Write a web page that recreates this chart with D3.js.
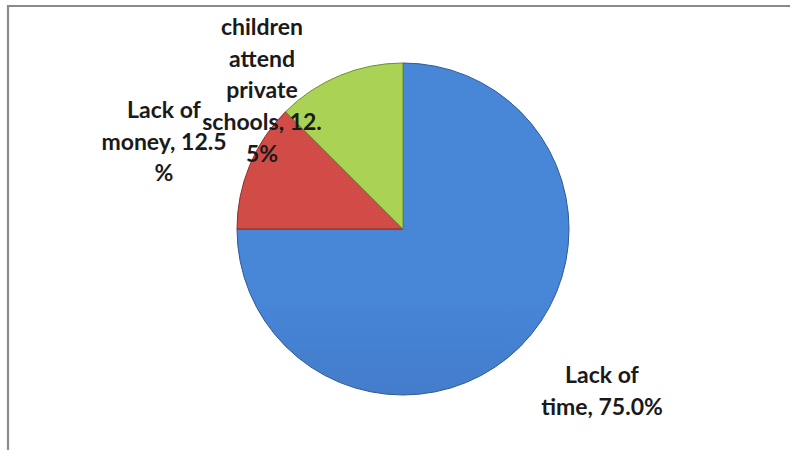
<!DOCTYPE html>
<html>
<head>
<meta charset="utf-8">
<script src="https://cdn.jsdelivr.net/npm/d3@7"></script>
<style>
  html, body { margin: 0; padding: 0; background: #ffffff; }
  svg { display: block; }
</style>
</head>
<body>
<script>
// ---- data ----
const categories = ["Lack of time", "Lack of money", "children attend private schools"];
const values = [75.0, 12.5, 12.5];
const labelLines = [
  ["Lack of", "time, 75.0%"],
  ["Lack of", "money, 12.5", "%"],
  ["children", "attend", "private", "schools, 12.", "5%"]
];

// ---- layout / style ----
const W = 790, H = 450;
const cx = 403, cy = 229, R = 166;
const topCols = ["#4886d8", "#d24c47", "#aad254"];
const botCols = ["#3867ad", "#b13a36", "#8fb245"];
const edgeCols = ["#2d5a96", "#8a2e2b", "#6e8e30"];
// label anchors (center of first baseline), relative to pie center
const labelAnchor = [[199, 154], [-239, -111], [-141, -194]];
const lineH = 31.7;

const svg = d3.select("body").append("svg").attr("width", W).attr("height", H);

// chart frame
svg.append("path")
  .attr("d", `M8,${H + 5} L8,6 L${W + 5},6`)
  .attr("fill", "none").attr("stroke", "#8a8a8a").attr("stroke-width", 2.2);

const defs = svg.append("defs");
topCols.forEach((c, i) => {
  const g = defs.append("linearGradient").attr("id", "g" + i)
    .attr("gradientUnits", "userSpaceOnUse")
    .attr("x1", 0).attr("y1", cy - R).attr("x2", 0).attr("y2", cy + R);
  g.append("stop").attr("offset", "0%").attr("stop-color", c);
  g.append("stop").attr("offset", "100%").attr("stop-color", botCols[i]);
});
const f = defs.append("filter").attr("id", "soft").attr("x", "-10%").attr("y", "-10%")
  .attr("width", "120%").attr("height", "120%");
f.append("feGaussianBlur").attr("stdDeviation", 1.6);

const pie = d3.pie().sort(null).value(d => d)
  .startAngle(0).endAngle(2 * Math.PI);
const arcs = pie(values);
const arc = d3.arc().innerRadius(0).outerRadius(R);

const g = svg.append("g").attr("transform", `translate(${cx},${cy})`);

g.selectAll("path.slice").data(arcs).join("path")
  .attr("class", "slice")
  .attr("d", arc)
  .attr("fill", (d, i) => `url(#g${i})`)
  .attr("stroke", (d, i) => edgeCols[i])
  .attr("stroke-width", 1)
  .attr("stroke-linejoin", "round");

// soft bevel highlight just inside each slice edge
const clip = defs.selectAll("clipPath").data(arcs).join("clipPath")
  .attr("id", (d, i) => "c" + i);
clip.append("path").attr("d", arc).attr("transform", `translate(${cx},${cy})`);

svg.append("g").selectAll("path.bevel").data(arcs).join("path")
  .attr("class", "bevel")
  .attr("clip-path", (d, i) => `url(#c${i})`)
  .attr("d", arc)
  .attr("transform", `translate(${cx},${cy})`)
  .attr("fill", "none")
  .attr("stroke", "#ffffff")
  .attr("stroke-opacity", 0.22)
  .attr("stroke-width", 9)
  .attr("filter", "url(#soft)");

// labels
const lab = svg.append("g")
  .attr("font-family", "Lato, 'Open Sans', sans-serif")
  .attr("font-size", 23)
  .attr("font-weight", 700)
  .attr("fill", "#1a1a1a")
  .attr("text-anchor", "middle");

arcs.forEach((d, i) => {
  const t = lab.append("text")
    .attr("x", cx + labelAnchor[i][0])
    .attr("y", cy + labelAnchor[i][1]);
  labelLines[i].forEach((ln, j) => {
    t.append("tspan")
      .attr("x", cx + labelAnchor[i][0])
      .attr("y", cy + labelAnchor[i][1] + j * lineH)
      .text(ln);
  });
});
</script>
</body>
</html>
